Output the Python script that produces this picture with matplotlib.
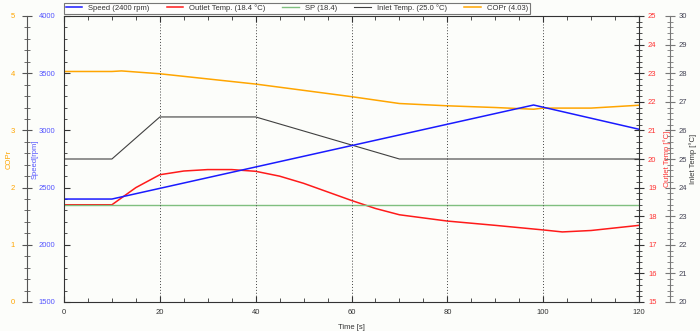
import matplotlib
matplotlib.use("Agg")
import matplotlib.pyplot as plt
from matplotlib.ticker import MultipleLocator
import numpy as np

plt.rcParams['font.family'] = ['Liberation Sans', 'DejaVu Sans']
plt.rcParams['font.size'] = 5.5

# data
t_speed = [0, 10, 98, 120]
speed = [2400, 2400, 3222, 3010]

t_out = [0, 10, 15, 20, 25, 30, 35, 40, 45, 50, 55, 60, 65, 70, 80, 90, 100, 104, 110, 120]
outlet = [18.4, 18.4, 19.0, 19.45, 19.58, 19.63, 19.63, 19.57, 19.4, 19.15, 18.85, 18.55,
          18.27, 18.05, 17.83, 17.68, 17.52, 17.45, 17.5, 17.68]

t_sp = [0, 120]
sp = [18.4, 18.4]

t_in = [0, 10, 20, 40, 70, 120]
inlet = [25.0, 25.0, 26.47, 26.47, 25.0, 25.0]

t_cop = [0, 10, 12, 20, 30, 40, 50, 60, 70, 80, 90, 98, 100, 110, 120]
copr = [4.03, 4.03, 4.04, 3.99, 3.90, 3.81, 3.70, 3.59, 3.47, 3.43, 3.40, 3.37, 3.39, 3.39, 3.44]

c_speed = '#1a1aff'
c_out = '#ff1a1a'
c_sp = '#7fbf7f'
c_in = '#404040'
c_cop = '#ffa500'
spine_c = '#333333'

fig = plt.figure(figsize=(7, 3.31), dpi=100)
fig.patch.set_facecolor('#fcfdfa')
W, H = 700, 331
x0, x1, y0, y1 = 64, 639, 16, 302
ax = fig.add_axes([x0 / W, (H - y1) / H, (x1 - x0) / W, (y1 - y0) / H])
ax.set_facecolor('#fcfdfa')
pw = x1 - x0

ax_c = ax.twinx()
ax_o = ax.twinx()
ax_i = ax.twinx()

# COPr axis on far left
ax_c.spines['left'].set_position(('axes', -37 / pw))
ax_c.spines['left'].set_visible(True)
ax_c.yaxis.set_ticks_position('left')
ax_c.yaxis.set_label_position('left')
ax_c.spines['right'].set_visible(False)
ax_c.spines['top'].set_visible(False)
ax_c.spines['bottom'].set_visible(False)

ax_o.spines['left'].set_visible(False)
ax_o.spines['top'].set_visible(False)
ax_o.spines['bottom'].set_visible(False)

ax_i.spines['right'].set_position(('axes', 1 + 31 / pw))
ax_i.spines['left'].set_visible(False)
ax_i.spines['top'].set_visible(False)
ax_i.spines['bottom'].set_visible(False)

l1, = ax.plot(t_speed, speed, color=c_speed, lw=1.1, label='Speed (2400 rpm)')
l2, = ax_o.plot(t_out, outlet, color=c_out, lw=1.1, label='Outlet Temp. (18.4 °C)')
l3, = ax_o.plot(t_sp, sp, color=c_sp, lw=1.0, label='SP (18.4)')
l4, = ax_i.plot(t_in, inlet, color=c_in, lw=0.8, label='Inlet Temp. (25.0 °C)')
l5, = ax_c.plot(t_cop, copr, color=c_cop, lw=1.1, label='COPr (4.03)')

ax.set_xlim(0, 120)
ax.set_ylim(1500, 4000)
ax_c.set_ylim(0, 5)
ax_o.set_ylim(15, 25)
ax_i.set_ylim(20, 30)

ax.xaxis.set_major_locator(MultipleLocator(20))
ax.xaxis.set_minor_locator(MultipleLocator(5))
ax.yaxis.set_major_locator(MultipleLocator(500))
ax.yaxis.set_minor_locator(MultipleLocator(100))
ax_c.yaxis.set_major_locator(MultipleLocator(1))
ax_c.yaxis.set_minor_locator(MultipleLocator(0.2))
ax_o.yaxis.set_major_locator(MultipleLocator(1))
ax_o.yaxis.set_minor_locator(MultipleLocator(0.2))
ax_i.yaxis.set_major_locator(MultipleLocator(1))
ax_i.yaxis.set_minor_locator(MultipleLocator(0.2))

ax.grid(axis='x', which='major', linestyle=(0, (1, 2)), color='#444444', lw=0.7)

for s in ax.spines.values():
    s.set_color(spine_c)
ax.spines['right'].set_visible(False)
ax.tick_params(axis='x', which='both', direction='in', top=True, colors=spine_c,
               labelcolor='#333333', pad=5)
ax.tick_params(axis='x', which='major', length=4)
ax.tick_params(axis='x', which='minor', length=3)
ax.tick_params(axis='y', which='both', direction='in', colors=spine_c, labelcolor='#5555ff', pad=6)
ax.tick_params(axis='y', which='major', length=4)
ax.tick_params(axis='y', which='minor', length=2.5)

ax_c.spines['left'].set_color('#555555')
ax_c.tick_params(axis='y', which='both', direction='inout', colors='#555555', labelcolor=c_cop, pad=5)
ax_c.tick_params(axis='y', which='major', length=7)
ax_c.tick_params(axis='y', which='minor', length=4)

ax_o.spines['right'].set_color(spine_c)
ax_o.tick_params(axis='y', which='both', direction='inout', colors=spine_c, labelcolor='#ff3333', pad=3)
ax_o.tick_params(axis='y', which='major', length=7)
ax_o.tick_params(axis='y', which='minor', length=4)

ax_i.spines['right'].set_color('#777777')
ax_i.tick_params(axis='y', which='both', direction='inout', colors='#777777', labelcolor='#444455', pad=3)
ax_i.tick_params(axis='y', which='major', length=7)
ax_i.tick_params(axis='y', which='minor', length=4)

ax.set_xlabel('Time [s]', color='#333333')
ax.xaxis.set_label_coords(0.5, -(324 - y1) / (y1 - y0))

ax.set_ylabel('Speed[rpm]', color='#5555ff')
ax.yaxis.set_label_coords(-(64 - 39) / pw, 0.5)
ax_c.set_ylabel('COPr', color=c_cop)
ax_c.yaxis.set_label_coords(-(64 - 13) / pw, 0.5)
ax_o.set_ylabel('Outlet Temp [°C]', color='#ff3333')
ax_o.yaxis.set_label_coords(1 + (663 - 639) / pw, 0.5)
ax_i.set_ylabel('Inlet Temp [°C]', color='#333333')
ax_i.yaxis.set_label_coords(1 + (689 - 639) / pw, 0.5)

ax.set_zorder(ax_c.get_zorder() + 5)
ax.patch.set_visible(False)

leg = fig.legend(handles=[l1, l2, l3, l4, l5], loc='lower left',
                 bbox_to_anchor=(64 / W, (H - 13.5) / H), ncol=5, frameon=True,
                 fancybox=False, edgecolor='#555555', borderpad=0.2, handlelength=2.2,
                 handletextpad=0.8, columnspacing=2.2, fontsize=5.5, borderaxespad=0)
leg.get_frame().set_linewidth(0.8)
for t in leg.get_texts():
    t.set_color('#333333')

plt.savefig('out.png', dpi=100, facecolor=fig.get_facecolor())
